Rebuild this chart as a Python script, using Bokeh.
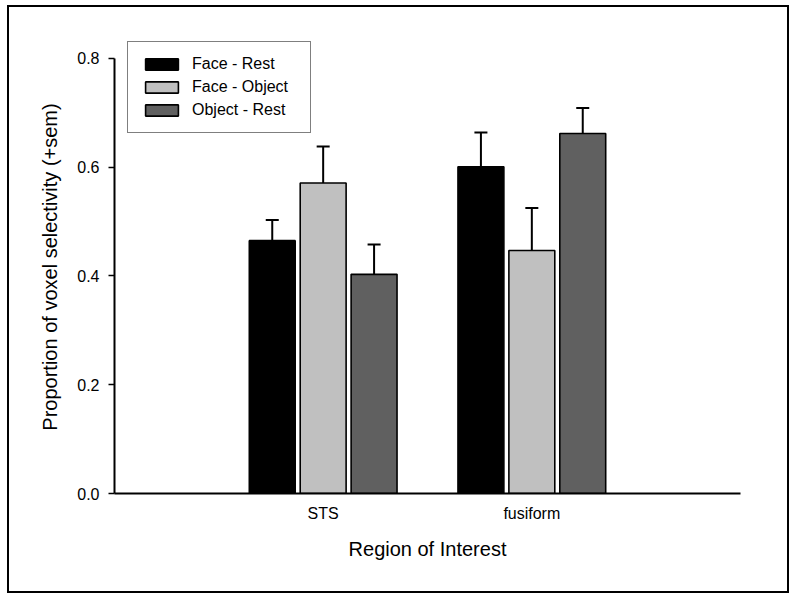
from bokeh.plotting import figure
from bokeh.models import (ColumnDataSource, FactorRange, Range1d, FixedTicker,
                          PrintfTickFormatter, Whisker, TeeHead, Legend)
from bokeh.transform import dodge
from bokeh.embed import file_html
from bokeh.resources import INLINE

regions = ["STS", "fusiform"]
series_names = ["Face - Rest", "Face - Object", "Object - Rest"]
face_rest = [0.465, 0.601]
face_object = [0.571, 0.447]
object_rest = [0.403, 0.662]
face_rest_sem = [0.038, 0.063]
face_object_sem = [0.067, 0.078]
object_rest_sem = [0.055, 0.047]
y_ticks = [0.0, 0.2, 0.4, 0.6, 0.8]

colors = ["#000000", "#c0c0c0", "#606060"]
offsets = [-0.244, 0.0, 0.244]
FONT = "Liberation Sans"

src = ColumnDataSource(dict(
    region=regions,
    v0=face_rest, v1=face_object, v2=object_rest,
    u0=[v + s for v, s in zip(face_rest, face_rest_sem)],
    u1=[v + s for v, s in zip(face_object, face_object_sem)],
    u2=[v + s for v, s in zip(object_rest, object_rest_sem)],
))

p = figure(width=782, height=588, output_backend="svg", toolbar_location=None,
           x_range=FactorRange(factors=regions, range_padding=0.5, range_padding_units="percent"),
           y_range=Range1d(0, 0.8331),
           min_border_left=105, min_border_right=51, min_border_top=33, min_border_bottom=102)
p.styles = {"border": "2px solid black", "margin-left": "7px", "margin-top": "5px"}
p.outline_line_color = None
p.xgrid.grid_line_color = None
p.ygrid.grid_line_color = None

items = []
for i in range(3):
    r = p.vbar(x=dodge("region", offsets[i], range=p.x_range), top=f"v{i}", width=0.22,
               source=src, fill_color=colors[i], line_color="black", line_width=1.6)
    items.append((series_names[i], [r]))
    w = Whisker(base=dodge("region", offsets[i], range=p.x_range), upper=f"u{i}", lower=f"v{i}",
                source=src, line_color="black", line_width=2,
                upper_head=TeeHead(size=13, line_color="black", line_width=2), lower_head=None)
    p.add_layout(w)

legend = Legend(items=items, location=(13, 360), border_line_color="black", border_line_width=1.6,
                padding=13, spacing=5, glyph_width=41, glyph_height=14, label_height=14,
                label_width=105, label_standoff=10, label_text_font=FONT,
                label_text_font_size="16px", label_text_color="black",
                background_fill_alpha=1.0, margin=0)
p.add_layout(legend, "center")

p.yaxis.bounds = (0, 0.8)
p.yaxis.ticker = FixedTicker(ticks=y_ticks)
p.yaxis.formatter = PrintfTickFormatter(format="%.1f")
p.yaxis.minor_tick_line_color = None
p.yaxis.major_tick_out = 6
p.yaxis.major_tick_in = 0
p.yaxis.major_label_standoff = 9
p.yaxis.axis_label = "Proportion of voxel selectivity (+sem)"
p.yaxis.axis_label_standoff = 13

p.xaxis.major_tick_line_color = None
p.xaxis.minor_tick_line_color = None
p.xaxis.major_label_standoff = 5
p.xaxis.axis_label = "Region of Interest"
p.xaxis.axis_label_standoff = 13

for ax in (p.xaxis, p.yaxis):
    ax.axis_line_color = "black"
    ax.axis_line_width = 2
    ax.major_tick_line_width = 1.5
    ax.major_label_text_font = FONT
    ax.major_label_text_font_size = "16px"
    ax.major_label_text_color = "black"
    ax.axis_label_text_font = FONT
    ax.axis_label_text_font_size = "20px"
    ax.axis_label_text_font_style = "normal"
    ax.axis_label_text_color = "black"
p.yaxis.major_tick_line_color = "black"
p.xaxis.major_tick_line_color = None

open("out.html", "w").write(file_html(p, INLINE))
